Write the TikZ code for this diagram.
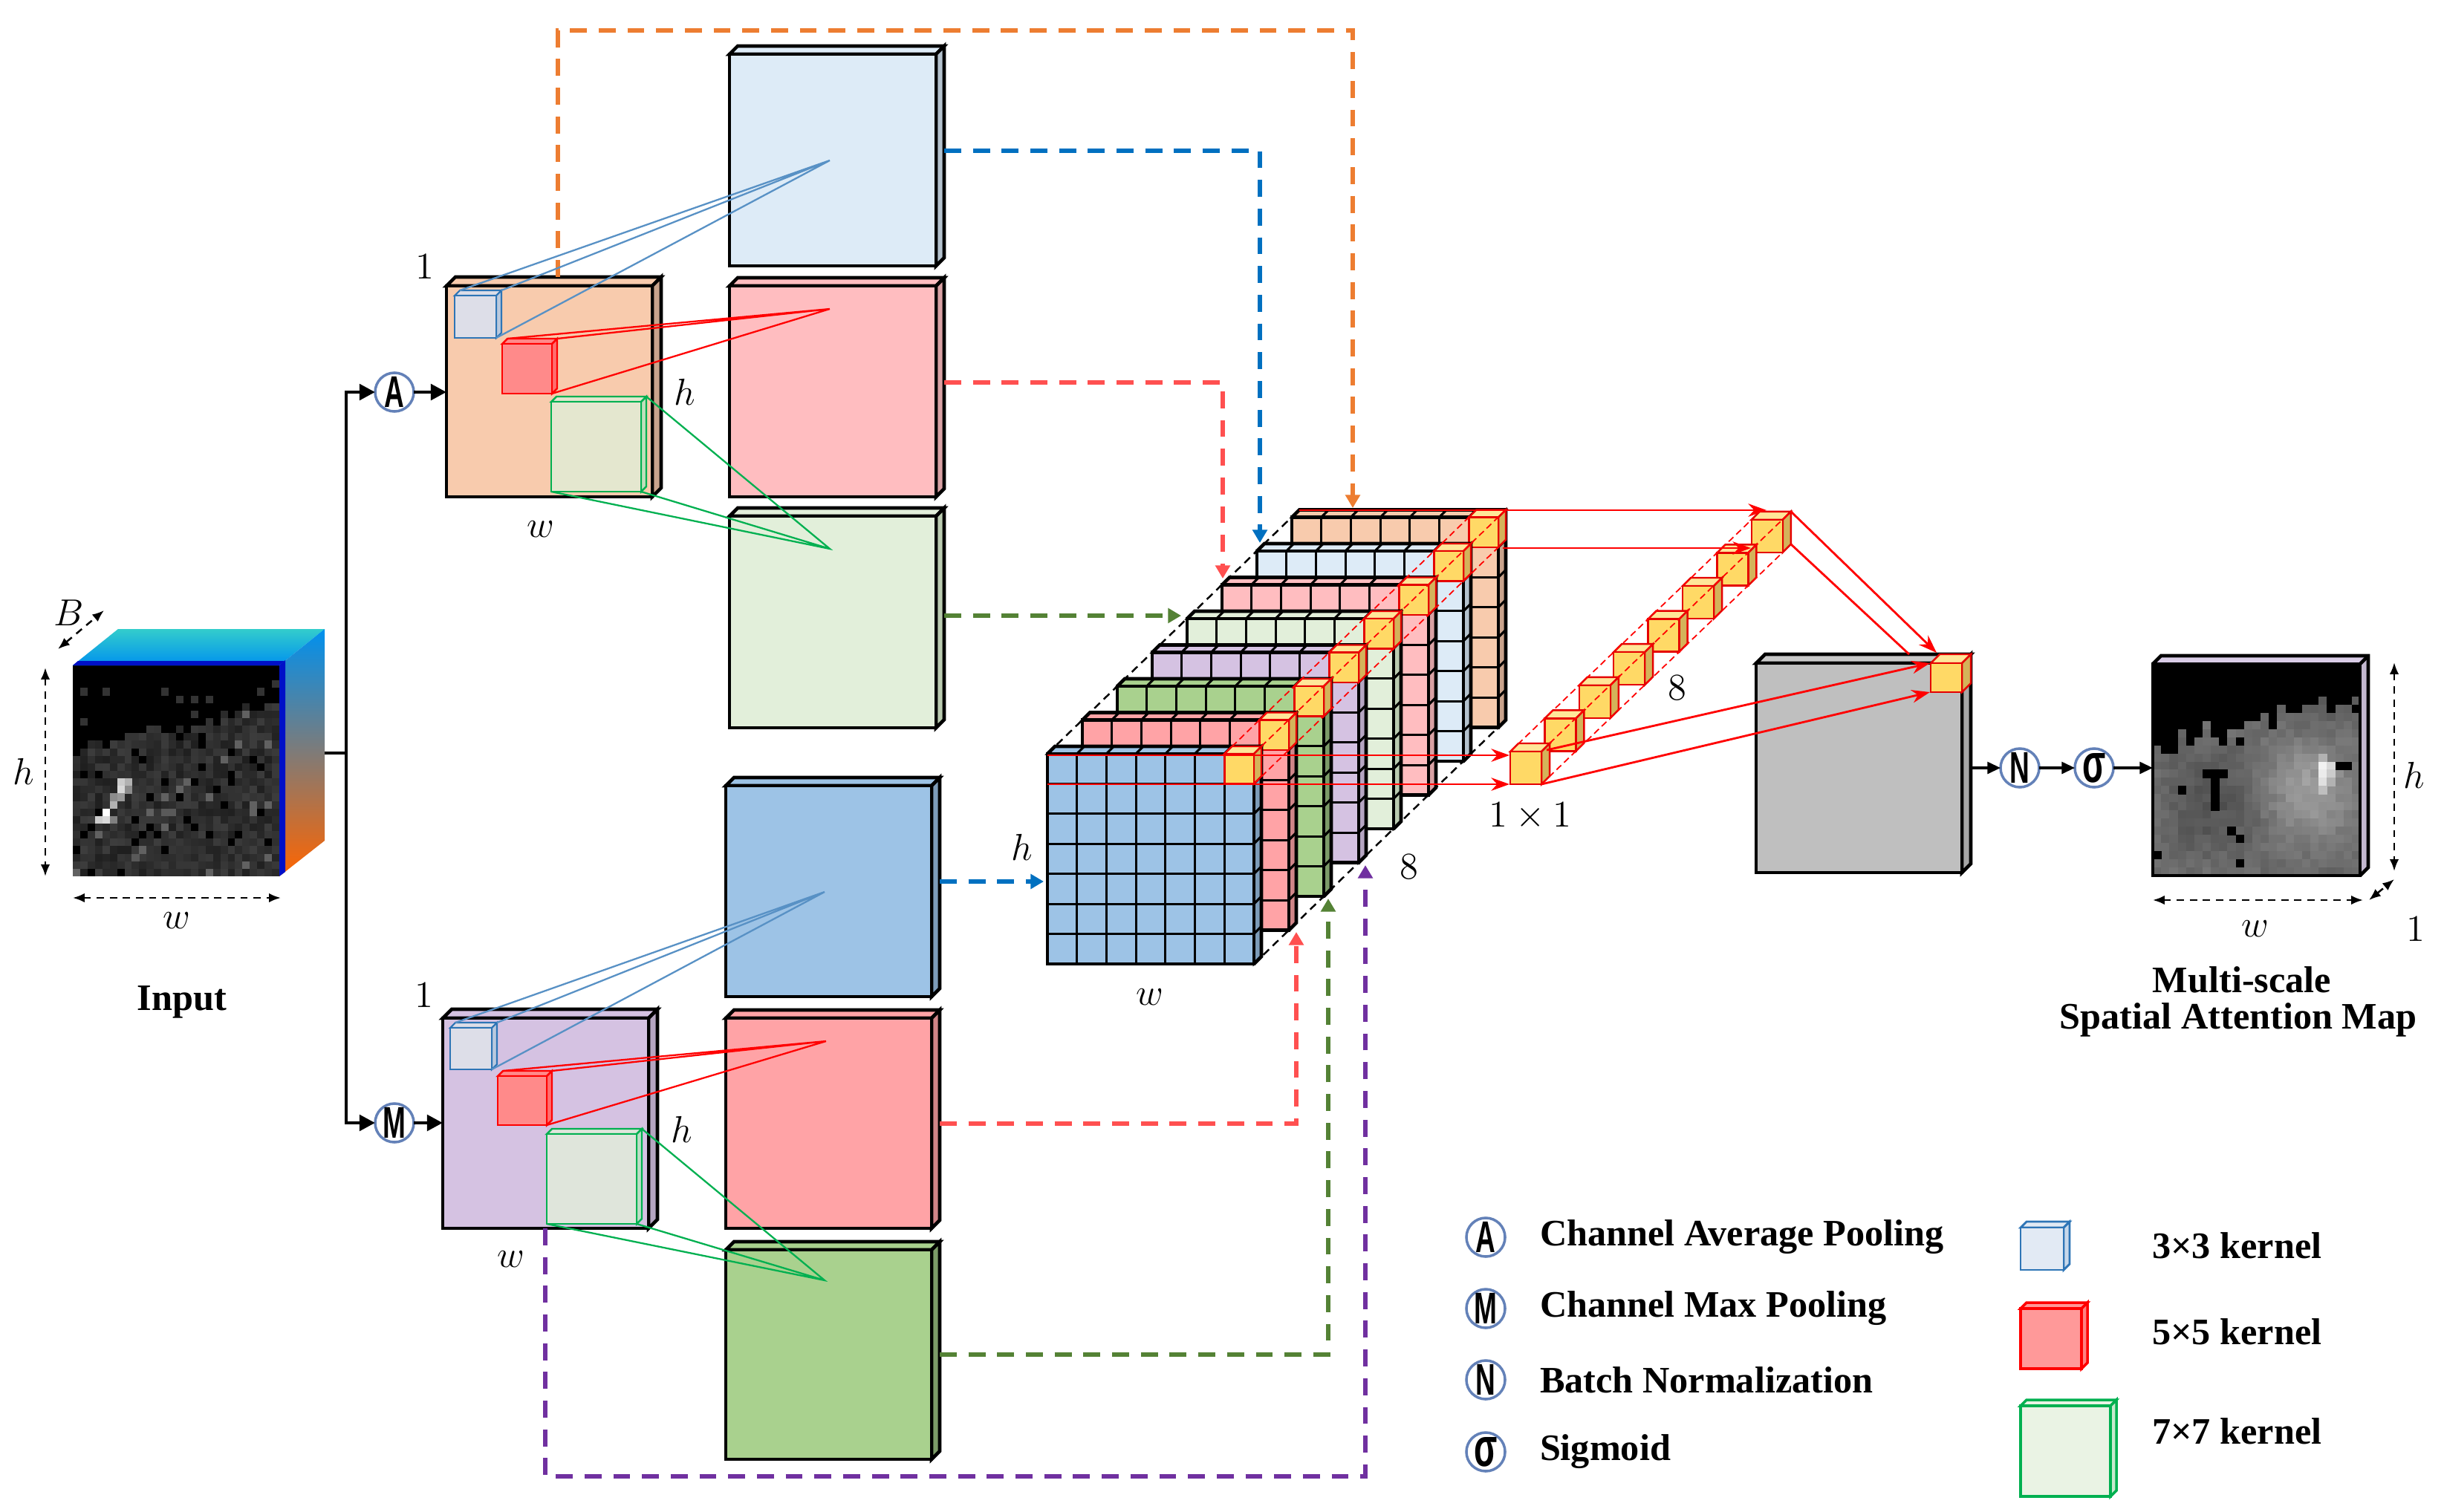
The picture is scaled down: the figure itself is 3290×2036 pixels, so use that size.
\documentclass[tikz,border=0pt]{standalone}
\usepackage{fontspec}
\setmainfont{Liberation Serif}
\newfontfamily\circfont{Liberation Sans}
\usetikzlibrary{arrows.meta}
\definecolor{cOrange}{HTML}{F8CBAD}\definecolor{cOrangeS}{HTML}{C9A38C}
\definecolor{cLBlue}{HTML}{DDEBF7}\definecolor{cLBlueS}{HTML}{B4C2CE}
\definecolor{cPink}{HTML}{FFBDC0}\definecolor{cPinkS}{HTML}{D9A1A4}
\definecolor{cLGreen}{HTML}{E2EFDA}\definecolor{cLGreenS}{HTML}{BACBB0}
\definecolor{cBlue}{HTML}{9DC3E6}\definecolor{cBlueS}{HTML}{7D9CB9}
\definecolor{cSalmon}{HTML}{FFA3A6}\definecolor{cSalmonS}{HTML}{D08588}
\definecolor{cGreen}{HTML}{A9D18E}\definecolor{cGreenS}{HTML}{7C9B68}
\definecolor{cLav}{HTML}{D5C2E2}\definecolor{cLavS}{HTML}{B5A5C1}
\definecolor{cYel}{HTML}{FFD966}\definecolor{cYelT}{HTML}{FFE699}\definecolor{cYelS}{HTML}{D4B35A}
\definecolor{cGrey}{HTML}{BFBFBF}\definecolor{cGreyT}{HTML}{C9C9C9}\definecolor{cGreyS}{HTML}{A6A6A6}
\definecolor{outLav}{HTML}{D9CCE6}
\definecolor{dOrange}{HTML}{ED7D31}\definecolor{dBlue}{HTML}{0070C0}
\definecolor{dRed}{HTML}{FF5050}\definecolor{dGreen}{HTML}{548235}\definecolor{dPurple}{HTML}{7030A0}
\definecolor{ringc}{HTML}{6381B8}
\definecolor{kBlue}{HTML}{2E75B6}\definecolor{kGreen}{HTML}{00B050}
\definecolor{kBlueF}{HTML}{DDDEE8}\definecolor{kRedF}{HTML}{FF8A8A}
\definecolor{kGreenF}{HTML}{E4E7CF}\definecolor{kGreenF2}{HTML}{DFE5DB}
\definecolor{lk3}{HTML}{E2EAF4}\definecolor{lk5}{HTML}{FF9999}\definecolor{lk7}{HTML}{EAF3E4}
\definecolor{jetCyan}{HTML}{00C8FF}\definecolor{jetYellow}{HTML}{FFE000}\definecolor{jetBlue}{HTML}{0010C8}
\tikzset{
 every node/.style={inner sep=0pt,outer sep=0pt},
 bd/.style={draw=black,line width=1.3pt,line join=miter},
 cellline/.style={draw=black,line width=0.85pt},
 outerline/.style={draw=black,line width=1.3pt,line join=miter},
 ycell/.style={draw=red!90!black,line width=0.7pt},
 flow/.style={line width=1.4pt,line join=miter,-{Triangle[length=6pt,width=6pt]}},
 dconn/.style={line width=1.7pt,dash pattern=on 6.5pt off 4.5pt,-{Triangle[length=5pt,width=5.5pt]}},
 redarr/.style={draw=red,line width=0.8pt,-{Stealth[length=7pt,width=5pt]}},
 redln/.style={draw=red,line width=0.8pt},
 reddash/.style={draw=red,line width=0.5pt,dash pattern=on 2.5pt off 1.5pt},
 envdash/.style={draw=black,line width=0.7pt,dash pattern=on 3pt off 2pt},
 dimarr/.style={line width=0.7pt,dash pattern=on 2.8pt off 2.2pt,{Latex[length=4.5pt,width=3.5pt]}-{Latex[length=4.5pt,width=3.5pt]}},
 op/.style={circle,draw=ringc,line width=1pt,fill=white,minimum size=0.52cm,inner sep=0pt},
 thinarr/.style={line width=0.9pt,-{Triangle[length=5pt,width=4.5pt]}},
 lbl/.style={font=\fontsize{15}{15}\selectfont},
 blbl/.style={font=\fontsize{14.3}{14.3}\selectfont\bfseries},
 kline/.style={line width=0.65pt},
}
\newcommand\opl[1]{\scalebox{0.62}[1]{\circfont\bfseries\fontsize{17}{17}\selectfont #1}}
\newcommand\slab[9]{%
  \filldraw[#9,fill=#7] (#1,#2) -- ++(#5,-#5) -- ++(#3,0) -- ++(-#5,#5) -- cycle;
  \filldraw[#9,fill=#8] ({#1+#3},#2) -- ++(#5,-#5) -- ++(0,#4) -- ++(-#5,#5) -- cycle;
  \filldraw[#9,fill=#6] (#1,#2) rectangle ++(#3,#4);}
\newcommand\stklayer[3]{%
 \pgfmathsetmacro\lx{1410+47*#1}%
 \pgfmathsetmacro\ly{1015-45.5*#1}%
 \foreach \i in {0,...,6}{\filldraw[cellline,fill=#2] ({\lx+\i*39.714},\ly) -- ++(10,-10) -- ++(39.714,0) -- ++(-10,10) -- cycle;}%
 \foreach \j in {0,...,6}{\filldraw[cellline,fill=#3] ({\lx+278},{\ly+\j*40.43}) -- ++(10,-10) -- ++(0,40.43) -- ++(-10,10) -- cycle;}%
 \fill[#2] (\lx,\ly) rectangle ++(278,283);
 \foreach \i in {1,...,6}{\draw[cellline] ({\lx+\i*39.714},\ly) -- ++(0,283);}%
 \foreach \j in {1,...,6}{\draw[cellline] (\lx,{\ly+\j*40.43}) -- ++(278,0);}%
 \draw[outerline] (\lx,\ly) rectangle ++(278,283);
 \draw[outerline] (\lx,\ly) -- ++(10,-10) -- ++(278,0) -- ++(0,283) -- ++(-10,10);
 \draw[outerline] ({\lx+278},\ly) -- ++(10,-10);
 \filldraw[ycell,fill=cYelT] ({\lx+238.286},\ly) -- ++(10,-10) -- ++(39.714,0) -- ++(-10,10) -- cycle;
 \filldraw[ycell,fill=cYelS] ({\lx+278},\ly) -- ++(10,-10) -- ++(0,40.43) -- ++(-10,10) -- cycle;
 \filldraw[ycell,fill=cYel] ({\lx+238.286},\ly) rectangle ++(39.714,40.43);
}
\begin{document}
\begin{tikzpicture}[x=0.01cm,y=-0.01cm]
\useasboundingbox (0,0) rectangle (3290,2036);
\fill[white] (0,0) rectangle (3290,2036);

%================ Input cube
\pgfmathsetseed{7}
\foreach \i in {0,...,27}{
  \pgfmathsetmacro\bnd{9.5-0.22*\i+2*rnd}
  \foreach \j in {0,...,27}{
    \pgfmathsetmacro\r{rnd}
    \pgfmathsetmacro\p{(\j<\bnd) ? ((\r<0.06) ? 80 : 100) : ((\r<0.07) ? 100 : ((\r>0.95) ? 62 : 76+12*rnd))}
    \fill[black!\p] ({98+\i*9.929},{896+\j*10.143}) rectangle ++(10.3,10.5);
  }}
\foreach \a/\b/\p in {6/15/20,7/15/30,6/16/15,7/16/45,5/17/45,6/17/40,5/18/30,4/19/0,4/20/15,3/20/20,5/20/50,12/19/65,13/19/65,8/25/65}{
  \fill[black!\p] ({98+\a*9.929},{896+\b*10.143}) rectangle ++(10.3,10.5);}
\shade[top color=jetCyan!80!jetYellow,bottom color=jetCyan!70!jetBlue] (98,896) -- (159,847) -- (437,847) -- (376,896) -- cycle;
\fill[jetBlue] (98,896) -- (105,890) -- (383,890) -- (376,896) -- cycle;
\shade[top color=jetCyan!70!jetBlue,middle color=jetCyan!35!jetYellow,bottom color=jetYellow!45!red] (376,896) -- (437,847) -- (437,1132) -- (376,1180) -- cycle;
\fill[jetBlue] (376,896) -- (384,889) -- (384,1174) -- (376,1180) -- cycle;
\node[lbl] (labB) at (93,825) {$B$};
\coordinate (bA) at (78,874); \coordinate (bB) at (140,822);
\draw[dimarr] (bA) -- (bB);
\node[lbl] (labh0) at (32,1039) {$h$};
\coordinate (vh0a) at (61,899); \coordinate (vh0b) at (61,1180);
\draw[dimarr] (vh0a) -- (vh0b);
\node[lbl] (labw0) at (238,1240) {$w$};
\coordinate (hw0a) at (98,1209); \coordinate (hw0b) at (378,1209);
\draw[dimarr] (hw0a) -- (hw0b);
\node[blbl] (labIn) at (245,1349) {Input};

%================ Branching
\coordinate (inR) at (437,1014);
\coordinate (spl) at (466,1014);
\node[op] (opA) at (531,528) {\opl{A}};
\node[op] (opM) at (531,1512) {\opl{M}};
\draw[line width=1.4pt] (inR) -- (spl);
\draw[flow] (spl) |- (opA.west);
\draw[flow] (spl) |- (opM.west);
\coordinate (mapAin) at (601,528);
\coordinate (mapMin) at (596,1512);
\draw[flow] (opA.east) -- (mapAin);
\draw[flow] (opM.east) -- (mapMin);

%================ Feature maps
\slab{982}{73}{278}{285}{11}{cLBlue}{cLBlue}{cLBlueS}{bd}
\slab{982}{385}{278}{284}{11}{cPink}{cPink}{cPinkS}{bd}
\slab{982}{695}{278}{285}{11}{cLGreen}{cLGreen}{cLGreenS}{bd}
\slab{977}{1058}{277}{284}{11}{cBlue}{cBlue}{cBlueS}{bd}
\slab{977}{1371}{277}{283}{11}{cSalmon}{cSalmon}{cSalmonS}{bd}
\slab{977}{1683}{277}{282}{11}{cGreen}{cGreen}{cGreenS}{bd}

%================ Pooled maps
\slab{601}{385}{277}{284}{12}{cOrange}{cOrange}{cOrangeS}{bd}
\slab{596}{1371}{277}{283}{12}{cLav}{cLav}{cLavS}{bd}
% kernels top
\slab{612}{398}{56}{57}{7}{kBlueF}{kBlueF}{kBlueF!80!kBlue}{draw=kBlue,line width=0.6pt}
\slab{676}{463}{67}{67}{7}{kRedF}{kRedF}{kRedF!80!red}{draw=red,line width=0.7pt}
\slab{742}{541}{121}{121}{7}{kGreenF}{kGreenF}{kGreenF!85!kGreen}{draw=kGreen,line width=0.7pt}
% kernels bottom
\slab{606}{1384}{56}{56}{7}{kBlueF}{kBlueF}{kBlueF!80!kBlue}{draw=kBlue,line width=0.6pt}
\slab{670}{1449}{66}{66}{7}{kRedF}{kRedF}{kRedF!80!red}{draw=red,line width=0.7pt}
\slab{736}{1527}{121}{121}{7}{kGreenF2}{kGreenF2}{kGreenF2!85!kGreen}{draw=kGreen,line width=0.7pt}

%================ Dashed connectors
\coordinate (oS) at (751,373); \coordinate (oT) at (1821,684);
\draw[dconn,draw=dOrange] (oS) -- (751,41) -- (1821,41) -- (oT);
\coordinate (b1S) at (1271,203); \coordinate (b1T) at (1696,731);
\draw[dconn,draw=dBlue] (b1S) -- (1696,203) -- (b1T);
\coordinate (r1S) at (1271,515); \coordinate (r1T) at (1646,779);
\draw[dconn,draw=dRed] (r1S) -- (1646,515) -- (r1T);
\coordinate (g1S) at (1271,829); \coordinate (g1T) at (1590,829);
\draw[dconn,draw=dGreen] (g1S) -- (g1T);
\coordinate (b2S) at (1265,1187); \coordinate (b2T) at (1405,1187);
\draw[dconn,draw=dBlue] (b2S) -- (b2T);
\coordinate (r2S) at (1265,1513); \coordinate (r2T) at (1745,1255);
\draw[dconn,draw=dRed] (r2S) -- (1745,1513) -- (r2T);
\coordinate (g2S) at (1265,1824); \coordinate (g2T) at (1788,1210);
\draw[dconn,draw=dGreen] (g2S) -- (1788,1824) -- (g2T);
\coordinate (pS) at (734,1654); \coordinate (pT) at (1838,1165);
\draw[dconn,draw=dPurple] (pS) -- (734,1988) -- (1838,1988) -- (pT);

% cones
\coordinate (tB) at (1117,216); \coordinate (tR) at (1117,416); \coordinate (tG) at (1117,739);
\draw[kline,draw=kBlue!80!white] (619,391) -- (tB) -- (675,391) (tB) -- (668,455);
\draw[kline,draw=red] (683,456) -- (tR) -- (750,456) (tR) -- (743,530);
\draw[kline,draw=kGreen] (870,534) -- (tG) -- (742,662) (tG) -- (863,662);
\coordinate (bB) at (1110,1201); \coordinate (bR) at (1112,1402); \coordinate (bG) at (1110,1724);
\draw[kline,draw=kBlue!80!white] (613,1377) -- (bB) -- (669,1377) (bB) -- (662,1440);
\draw[kline,draw=red] (677,1442) -- (bR) -- (743,1442) (bR) -- (736,1515);
\draw[kline,draw=kGreen] (864,1520) -- (bG) -- (736,1648) (bG) -- (857,1648);
% labels
\node[lbl] (l1a) at (572,359) {$1$};
\node[lbl] (lha) at (922,528) {$h$};
\node[lbl] (lwa) at (728,713) {$w$};
\node[lbl] (l1m) at (571,1340) {$1$};
\node[lbl] (lhm) at (918,1521) {$h$};
\node[lbl] (lwm) at (688,1696) {$w$};

%================ Stack
\draw[envdash] (1410,1015) -- (1749,686.5);
\draw[envdash] (1688,1298) -- (2027,969.5);
\stklayer{7}{cOrange}{cOrangeS}
\stklayer{6}{cLBlue}{cLBlueS}
\stklayer{5}{cPink}{cPinkS}
\stklayer{4}{cLGreen}{cLGreenS}
\stklayer{3}{cLav}{cLavS}
\stklayer{2}{cGreen}{cGreenS}
\stklayer{1}{cSalmon}{cSalmonS}
\stklayer{0}{cBlue}{cBlueS}
\draw[reddash] (1648.3,1015) -- (1977.3,696.5);
\draw[reddash] (1688,1055.4) -- (2017,736.9);
\draw[reddash] (1698,1005) -- (2027,686.5);
\node[lbl] (lhs) at (1376,1141) {$h$};
\node[lbl] (lws) at (1548,1343) {$w$};
\node[lbl] (l8s) at (1897,1167) {$8$};

%================ 1x1 column
\foreach \j in {7,6,...,0}{
  \pgfmathsetmacro\cx{2033+46.4*\j}
  \pgfmathsetmacro\cy{1012-44.6*\j}
  \slab{\cx}{\cy}{42}{44}{11}{cYel}{cYelT}{cYelS}{ycell}
}
\draw[reddash] (2033,1012) -- (2357.8,699.8);
\draw[reddash] (2075,1056) -- (2399.8,743.8);
\draw[reddash] (2086,1001) -- (2410.8,688.8);
\draw[redarr] (1410,1017) -- (2032,1017);
\draw[redarr] (1410,1056) -- (2032,1056);
\draw[redarr] (1749,687) -- (2378,687);
\draw[redarr] (2023,738) -- (2357,738);
\node[lbl] (l11) at (2060,1099) {$1\times1$};
\node[lbl] (l8c) at (2258,926) {$8$};

%================ Conv output
\slab{2364}{893}{277}{282}{12}{cGrey}{cGreyT}{cGreyS}{bd}
\slab{2599}{893}{42}{39}{12}{cYel}{cYelT}{cYelS}{ycell}
\draw[redarr] (2410.8,688.8) -- (2607,879);
\draw[redln] (2410.8,732.8) -- (2570,881);
\draw[redarr] (2082,1010) -- (2598,893);
\draw[redarr] (2075,1056) -- (2598,932);

\coordinate (gR) at (2653,1034);
\node[op] (opN) at (2719,1034) {\opl{N}};
\node[op] (opS) at (2819,1034) {\opl{\fontsize{21}{21}\selectfont σ}};
\coordinate (outL) at (2898,1034);
\draw[thinarr] (gR) -- (opN.west);
\draw[thinarr] (opN.east) -- (opS.west);
\draw[thinarr] (opS.east) -- (outL);

%================ Output map
\fill[outLav] (2898,894) -- (2909,883) -- (3188,883) -- (3177,894) -- cycle;
\fill[outLav!90!black] (3177,894) -- (3188,883) -- (3188,1168) -- (3177,1179) -- cycle;
\pgfmathsetseed{11}
\foreach \i in {0,...,24}{
  \pgfmathsetmacro\bnd{8.5-0.27*\i+2.2*rnd}
  \foreach \j in {0,...,25}{
    \pgfmathsetmacro\r{rnd}
    \pgfmathsetmacro\p{(\j<\bnd) ? 100 : (((\j<\bnd+2) && (\r<0.3)) ? 100 : 55-9*sin(\i*14)*cos(\j*11)-12*exp(-((\i-18)^2)/25)*exp(-((\j-14)^2)/30)+7*rnd)}
    \fill[black!\p] ({2898+\i*11.16},{894+\j*10.96}) rectangle ++(11.5,11.3);
  }}
\foreach \a/\b/\p in {20/11/30,20/12/5,21/12/15,20/13/8,21/13/20,20/14/12,20/15/25,21/14/30,6/13/100,7/13/100,8/13/100,7/14/100,7/15/100,7/16/100,7/17/100,3/15/100,9/20/100,10/21/100,10/24/100,0/23/100,22/12/100,23/12/100}{
  \fill[black!\p] ({2898+\a*11.16},{894+\b*10.96}) rectangle ++(11.5,11.3);}
\draw[outerline] (2898,894) rectangle (3177,1179);
\draw[outerline] (2898,894) -- (2909,883) -- (3188,883) -- (3188,1168) -- (3177,1179);
\draw[outerline] (3177,894) -- (3188,883);
\coordinate (vhoa) at (3223,892); \coordinate (vhob) at (3223,1173);
\draw[dimarr] (vhoa) -- (vhob);
\node[lbl] (lho) at (3250,1044) {$h$};
\coordinate (hwoa) at (2898,1212); \coordinate (hwob) at (3181,1212);
\draw[dimarr] (hwoa) -- (hwob);
\node[lbl] (lwo) at (3036,1251) {$w$};
\coordinate (doa) at (3189,1212); \coordinate (dob) at (3223,1184);
\draw[dimarr] (doa) -- (dob);
\node[lbl] (l1o) at (3252,1251) {$1$};
\node[blbl,anchor=base] (t1) at (3018,1336) {Multi-scale};
\node[blbl,anchor=base] (t2) at (3013,1385) {Spatial Attention Map};

%================ Legend
\node[op] (lgA) at (2000,1666) {\opl{A}};
\node[op] (lgM) at (2000,1762) {\opl{M}};
\node[op] (lgN) at (2000,1858) {\opl{N}};
\node[op] (lgS) at (2000,1955) {\opl{\fontsize{21}{21}\selectfont σ}};
\node[blbl,anchor=west] (tA) at (2073,1666) {Channel Average Pooling};
\node[blbl,anchor=west] (tM) at (2073,1762) {Channel Max Pooling};
\node[blbl,anchor=west] (tN) at (2073,1858) {Batch Normalization};
\node[blbl,anchor=west] (tS) at (2073,1955) {Sigmoid};
\slab{2720}{1653}{58}{57}{8}{lk3}{lk3}{lk3!85!kBlue}{draw=kBlue,line width=0.8pt}
\slab{2720}{1762}{82}{81}{8}{lk5}{lk5}{lk5!85!red}{draw=red,line width=1pt}
\slab{2720}{1893}{121}{122}{8}{lk7}{lk7}{lk7!85!kGreen}{draw=kGreen,line width=1pt}
\node[blbl,anchor=west] (k3) at (2897,1677) {3×3 kernel};
\node[blbl,anchor=west] (k5) at (2897,1793) {5×5 kernel};
\node[blbl,anchor=west] (k7) at (2897,1927) {7×7 kernel};
\end{tikzpicture}
\end{document}
